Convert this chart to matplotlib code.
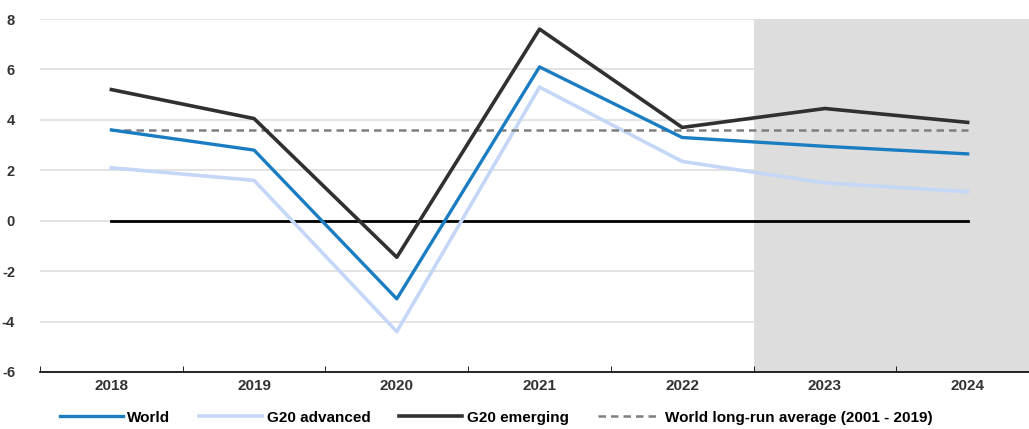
import matplotlib.pyplot as plt
import numpy as np

plt.rcParams['font.family'] = ['Liberation Sans', 'DejaVu Sans']

years = ['2018', '2019', '2020', '2021', '2022', '2023', '2024']
world = [3.6, 2.8, -3.1, 6.1, 3.3, 2.95, 2.65]
g20_adv = [2.1, 1.6, -4.4, 5.3, 2.35, 1.5, 1.15]
g20_em = [5.2, 4.05, -1.45, 7.6, 3.7, 4.45, 3.9]
long_run_avg = 3.6
projection_start = 4.5  # shading begins between 2022 and 2023
yticks = [-6, -4, -2, 0, 2, 4, 6, 8]

fig = plt.figure(figsize=(10.29, 4.29), dpi=100)
ax = fig.add_axes([0.0389, 0.1329, 0.9611, 0.8228])

x = np.arange(len(years))

ax.axvspan(projection_start, 7, color='#dddddd', zorder=0, lw=0)
for yv in yticks[1:]:
    ax.axhline(yv, color='#dedede', lw=1.2, zorder=1)

ax.plot(x, [0] * len(x), color='black', lw=2, zorder=2)
ax.plot(x, world, color='#1a7dc2', lw=2.4, label='World', zorder=4)
ax.plot(x, g20_adv, color='#c5d7f7', lw=2.6, label='G20 advanced', zorder=3)
ax.plot(x, g20_em, color='#303030', lw=2.6, label='G20 emerging', zorder=5)
ax.plot(x, [long_run_avg] * len(x), color='#7f7f7f', lw=1.8, ls=(0, (3, 2)),
        label='World long-run average (2001 - 2019)', zorder=3)

ax.set_xlim(-0.5, 6.43)
ax.set_ylim(-6, 8)
ax.set_yticks(yticks)
ax.set_yticklabels([str(v) for v in yticks], fontsize=10.5, fontweight='bold', color='#333333')
ax.set_xticks(x)
ax.set_xticklabels(years, fontsize=11, fontweight='bold', color='#333333')
ax.set_xticks(np.arange(-0.5, 6.5, 1), minor=True)
ax.tick_params(axis='x', which='major', length=0, pad=5)
ax.tick_params(axis='x', which='minor', length=4, direction='in', color='black')
ax.tick_params(axis='y', length=0, pad=18)

for s in ['top', 'right', 'left']:
    ax.spines[s].set_visible(False)
ax.spines['bottom'].set_color('black')
ax.spines['bottom'].set_linewidth(1.2)

fig.legend(loc='lower left', bbox_to_anchor=(0.045, -0.022), ncol=4, frameon=False,
           handlelength=4.1, columnspacing=1.9, handletextpad=0.3,
           prop={'weight': 'bold', 'size': 11})

fig.savefig('out.png', dpi=100)
